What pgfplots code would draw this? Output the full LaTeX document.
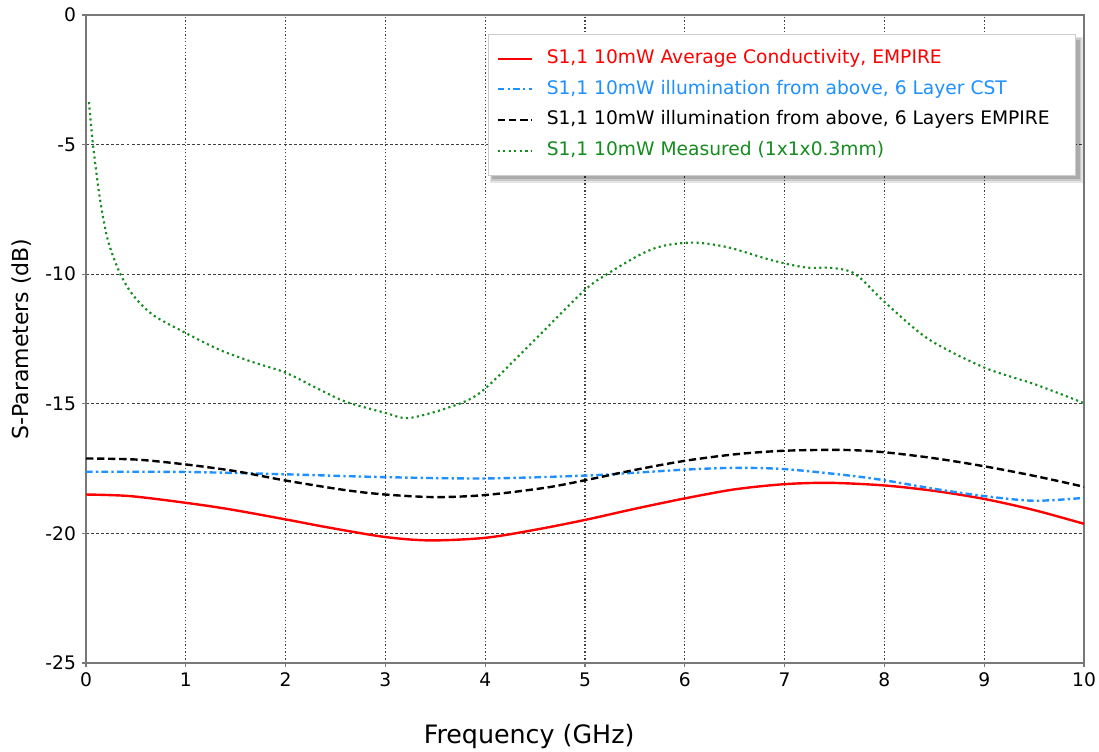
\documentclass[border=0pt]{standalone}
\usepackage{pgfplots}
\pgfplotsset{compat=1.18}
\usepackage{fontspec}
\setmainfont{DejaVu Sans}

\definecolor{sred}{RGB}{255,0,0}
\definecolor{sblue}{RGB}{30,144,255}
\definecolor{sgreen}{RGB}{20,140,30}
\definecolor{axgray}{RGB}{120,120,120}

\begin{document}
\begin{tikzpicture}
\useasboundingbox (-64.5pt,-66pt) rectangle (759.75pt,497.25pt);
\begin{axis}[
  at={(0,0)}, anchor=south west,
  scale only axis,
  width=748.5pt, height=486pt,
  xmin=0, xmax=10, ymin=-25, ymax=0,
  xtick={0,1,...,10},
  ytick={-25,-20,-15,-10,-5,0},
  xtick pos=bottom, ytick pos=left,
  tick align=outside,
  major tick length=3pt,
  tick style={axgray, line width=0.8pt},
  axis line style={axgray, line width=1pt},
  grid=major,
  x grid style={black!75, line width=0.8pt, dash pattern=on 1pt off 1.6pt},
  y grid style={black!75, line width=0.8pt, dash pattern=on 2.2pt off 1.6pt},
  /pgf/number format/assume math mode=true,
  ticklabel style={font=\fontsize{14}{16}\selectfont},
  xticklabel style={yshift=-1pt},
  yticklabel style={xshift=-1pt},
  xlabel={Frequency (GHz)},
  ylabel={S-Parameters (dB)},
  xlabel style={font=\fontsize{19}{22}\selectfont, at={(rel axis cs:0.444,0)}, anchor=center, yshift=-55.5pt},
  ylabel style={font=\fontsize{16.5}{19}\selectfont, at={(rel axis cs:0,0.5)}, anchor=center, yshift=48pt},
  legend cell align=left,
  legend image code/.code={\draw[#1, line width=1.5pt] plot coordinates {(0cm,0cm) (26pt,0cm)};},
  legend style={
    at={(0.992,0.971)}, anchor=north east,
    font=\fontsize{14}{16}\selectfont,
    draw=black!20, line width=0.5pt, fill=white,
    inner xsep=6pt, inner ysep=12pt, row sep=10pt,
    nodes={inner sep=0pt, text height=10pt, text depth=3pt},
    /tikz/every odd column/.append style={column sep=10pt},
  },
]

% soft shadow behind the legend box
\fill[black, opacity=0.10] (rel axis cs:0.4048,0.740) rectangle (rel axis cs:0.9985,0.966);
\fill[black, opacity=0.12] (rel axis cs:0.4058,0.744) rectangle (rel axis cs:0.9970,0.964);
\fill[black, opacity=0.15] (rel axis cs:0.4068,0.747) rectangle (rel axis cs:0.9955,0.962);

% S1,1 10mW Average Conductivity, EMPIRE
\addplot[sred, line width=1.8pt, smooth] coordinates {
(0,-18.5) (0.44,-18.56) (1,-18.82) (1.44,-19.07) (2,-19.46) (2.44,-19.78)
(3,-20.14) (3.45,-20.27) (4,-20.17) (4.5,-19.86) (5,-19.48) (5.5,-19.05)
(6,-18.65) (6.5,-18.3) (7,-18.1) (7.46,-18.05) (8,-18.15) (8.5,-18.36)
(9,-18.67) (9.5,-19.1) (10,-19.63)
};
\addlegendentry{\textcolor{sred}{S1,1 10mW Average Conductivity, EMPIRE}}

% S1,1 10mW illumination from above, 6 Layer CST
\addplot[sblue, line width=1.8pt, smooth, dash pattern=on 5pt off 2.4pt on 1.8pt off 2.4pt] coordinates {
(0,-17.62) (1,-17.63) (2,-17.72) (3,-17.83) (4,-17.88) (5,-17.77)
(5.5,-17.66) (6,-17.54) (6.5,-17.47) (7,-17.52) (7.63,-17.76) (8,-17.95)
(8.5,-18.28) (9,-18.56) (9.5,-18.74) (10,-18.63)
};
\addlegendentry{\textcolor{sblue}{S1,1 10mW illumination from above, 6 Layer CST}}

% S1,1 10mW illumination from above, 6 Layers EMPIRE
\addplot[black, line width=1.8pt, smooth, dash pattern=on 5.5pt off 2.8pt] coordinates {
(0,-17.11) (0.5,-17.15) (1,-17.34) (1.5,-17.6) (2,-17.96) (2.6,-18.33)
(3,-18.5) (3.5,-18.6) (4,-18.52) (4.6,-18.24) (5,-17.95) (5.5,-17.55)
(6,-17.2) (6.5,-16.95) (7,-16.81) (7.6,-16.78) (8,-16.87) (8.5,-17.1)
(9,-17.41) (9.5,-17.78) (10,-18.2)
};
\addlegendentry{\textcolor{black}{S1,1 10mW illumination from above, 6 Layers EMPIRE}\hspace*{13.5pt}}

% S1,1 10mW Measured (1x1x0.3mm)
\addplot[sgreen, line width=1.6pt, smooth, dash pattern=on 1.6pt off 2.5pt] coordinates {
(0.03,-3.36) (0.07,-5.0) (0.14,-7.1) (0.22,-8.7) (0.34,-9.96) (0.47,-10.8)
(0.67,-11.57) (1.0,-12.27) (1.34,-12.92) (1.67,-13.39) (2.0,-13.8)
(2.35,-14.47) (2.61,-14.93) (3.0,-15.35) (3.23,-15.55) (3.62,-15.16)
(3.95,-14.57) (4.45,-12.71) (4.99,-10.64) (5.22,-10.0) (5.56,-9.23)
(5.79,-8.9) (6.1,-8.78) (6.44,-8.97) (6.87,-9.46) (7.21,-9.74) (7.48,-9.76)
(7.71,-10.0) (8.01,-11.1) (8.44,-12.5) (9.0,-13.6) (9.51,-14.25) (9.99,-14.96)
};
\addlegendentry{\textcolor{sgreen}{S1,1 10mW Measured (1x1x0.3mm)}}

\end{axis}
\end{tikzpicture}
\end{document}
